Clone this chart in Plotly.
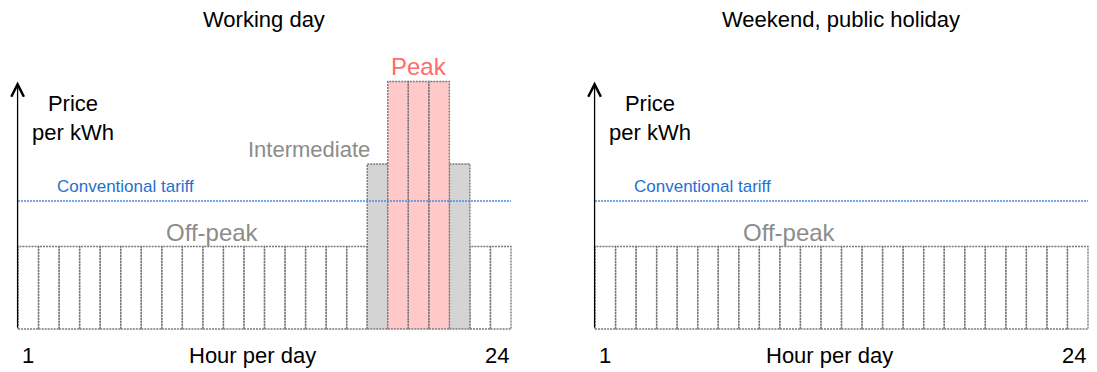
import plotly.graph_objects as go

# ---- data ----
hours = list(range(1, 25))
tier_names = ["Off-peak", "Intermediate", "Peak"]
tier_price = [1.0, 2.0, 3.0]  # relative price level of each tier
working_day_tier = ["Off-peak", "Off-peak", "Off-peak", "Off-peak", "Off-peak", "Off-peak",
                    "Off-peak", "Off-peak", "Off-peak", "Off-peak", "Off-peak", "Off-peak",
                    "Off-peak", "Off-peak", "Off-peak", "Off-peak", "Off-peak", "Intermediate",
                    "Peak", "Peak", "Peak", "Intermediate", "Off-peak", "Off-peak"]
weekend_tier = ["Off-peak", "Off-peak", "Off-peak", "Off-peak", "Off-peak", "Off-peak",
                "Off-peak", "Off-peak", "Off-peak", "Off-peak", "Off-peak", "Off-peak",
                "Off-peak", "Off-peak", "Off-peak", "Off-peak", "Off-peak", "Off-peak",
                "Off-peak", "Off-peak", "Off-peak", "Off-peak", "Off-peak", "Off-peak"]
conventional_tariff = 1.55
panel_titles = ["Working day", "Weekend, public holiday"]
x_tick_labels = ["1", "24"]

# ---- styles ----
FONT = "Arial, Liberation Sans, sans-serif"
tier_fill = {"Off-peak": "#ffffff", "Intermediate": "#d4d4d4", "Peak": "#ffc9c9"}
tier_text_color = {"Off-peak": "#8c8c8c", "Intermediate": "#8c8c8c", "Peak": "#ff6b6b"}
EDGE = "#7a7a7a"
BLUE_LINE = "#4a8fdb"
BLUE_TEXT = "#1f70d0"

W, H = 1097, 372
px_per_unit = 82.5
base_px = 329
y_min = -(H - base_px) / px_per_unit
y_max = y_min + H / px_per_unit
bar_px = 493 / 24
pad = 0.1  # extra x units on each side so the axis arrow lies inside the range

panels = [
    {"tiers": working_day_tier, "xa": "x", "ya": "y", "left": 18},
    {"tiers": weekend_tier, "xa": "x2", "ya": "y2", "left": 595},
]
for p in panels:
    p["dom"] = [(p["left"] - pad * bar_px) / W, (p["left"] + 493 + pad * bar_px) / W]

fig = go.Figure()
price_of = dict(zip(tier_names, tier_price))

for p in panels:
    for tier in tier_names:
        xs, ys = [], []
        for h, t in zip(hours, p["tiers"]):
            if t != tier:
                continue
            v = price_of[t]
            xs += [h - 0.5, h - 0.5, h + 0.5, h + 0.5, h - 0.5, None]
            ys += [0, v, v, 0, 0, None]
        if not xs:
            continue
        fig.add_trace(go.Scatter(
            x=xs, y=ys, mode="lines", fill="toself", fillcolor=tier_fill[tier],
            line=dict(color=EDGE, width=1.4, dash="2px,1px"),
            xaxis=p["xa"], yaxis=p["ya"], hoverinfo="skip", showlegend=False))
    # conventional tariff line
    fig.add_trace(go.Scatter(
        x=[hours[0] - 0.5, hours[-1] + 0.5], y=[conventional_tariff, conventional_tariff],
        mode="lines", line=dict(color=BLUE_LINE, width=1.5, dash="2px,1px"),
        xaxis=p["xa"], yaxis=p["ya"], hoverinfo="skip", showlegend=False))

annotations = []
for i, p in enumerate(panels):
    xr, yr = p["xa"], p["ya"]
    # y axis arrow
    annotations.append(dict(
        x=0.48, y=max(tier_price), ax=0.48, ay=0, xref=xr, yref=yr, axref=xr, ayref=yr,
        showarrow=True, arrowhead=5, arrowsize=1.9, arrowwidth=1.3, arrowcolor="#000000",
        text=""))
    # panel title
    annotations.append(dict(
        x=12.5, y=1 - 20 / H, xref=xr, yref="paper", text=panel_titles[i], showarrow=False,
        font=dict(family=FONT, size=22, color="#000000"), xanchor="center", yanchor="middle"))
    annotations.append(dict(
        x=3.18, y=2.56, xref=xr, yref=yr, text="Price<br>per kWh", showarrow=False,
        font=dict(family=FONT, size=22, color="#000000"), xanchor="center", yanchor="middle"))
    annotations.append(dict(
        x=2.3, y=1.73, xref=xr, yref=yr, text="Conventional tariff", showarrow=False,
        font=dict(family=FONT, size=17, color=BLUE_TEXT), xanchor="left", yanchor="middle"))
    annotations.append(dict(
        x=9.95, y=1.17, xref=xr, yref=yr, text="Off-peak", showarrow=False,
        font=dict(family=FONT, size=24, color=tier_text_color["Off-peak"]),
        xanchor="center", yanchor="middle"))
    annotations.append(dict(
        x=1.0, y=-0.32, xref=xr, yref=yr, text=x_tick_labels[0], showarrow=False,
        font=dict(family=FONT, size=22, color="#000000"), xanchor="center", yanchor="middle"))
    annotations.append(dict(
        x=24.5, y=-0.32, xref=xr, yref=yr, text=x_tick_labels[1], showarrow=False,
        font=dict(family=FONT, size=22, color="#000000"), xanchor="right", yanchor="middle"))
    annotations.append(dict(
        x=11.94, y=-0.32, xref=xr, yref=yr, text="Hour per day", showarrow=False,
        font=dict(family=FONT, size=22, color="#000000"), xanchor="center", yanchor="middle"))

# tier labels above working-day bars
annotations.append(dict(
    x=14.67, y=2.17, xref="x", yref="y", text="Intermediate", showarrow=False,
    font=dict(family=FONT, size=22, color=tier_text_color["Intermediate"]),
    xanchor="center", yanchor="middle"))
annotations.append(dict(
    x=20, y=3.18, xref="x", yref="y", text="Peak", showarrow=False,
    font=dict(family=FONT, size=24, color=tier_text_color["Peak"]),
    xanchor="center", yanchor="middle"))

axis_common = dict(showgrid=False, zeroline=False, showline=False, showticklabels=False,
                   ticks="", fixedrange=True)
fig.update_layout(
    width=W, height=H, margin=dict(l=0, r=0, t=0, b=0),
    paper_bgcolor="#ffffff", plot_bgcolor="rgba(0,0,0,0)",
    font=dict(family=FONT),
    xaxis=dict(domain=panels[0]["dom"], range=[0.5 - pad, 24.5 + pad], anchor="y", **axis_common),
    yaxis=dict(domain=[0, 1], range=[y_min, y_max], anchor="x", **axis_common),
    xaxis2=dict(domain=panels[1]["dom"], range=[0.5 - pad, 24.5 + pad], anchor="y2", **axis_common),
    yaxis2=dict(domain=[0, 1], range=[y_min, y_max], anchor="x2", **axis_common),
    annotations=annotations,
    showlegend=False,
)

fig.write_html("out.html", config={"displayModeBar": False},
               post_script="document.body.style.margin='0px';document.body.style.padding='0px';")
